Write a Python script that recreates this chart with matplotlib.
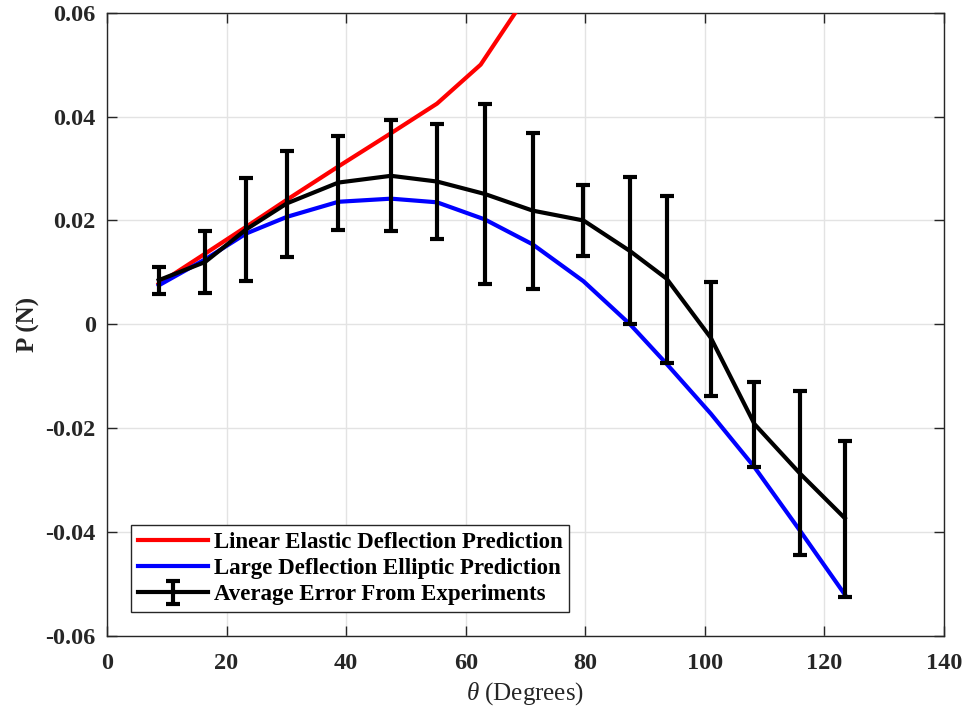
import matplotlib
matplotlib.use("Agg")
import matplotlib.pyplot as plt

plt.rcParams['font.family'] = ['Liberation Serif', 'DejaVu Serif']
plt.rcParams['mathtext.fontset'] = 'custom'
plt.rcParams['mathtext.it'] = 'Liberation Serif:italic'
plt.rcParams['mathtext.rm'] = 'Liberation Serif'

# Measured deflection angles (degrees) and load (N)
theta = [8.65, 16.4, 23.3, 30.1, 38.7, 47.5, 55.2, 63.2, 71.2,
         79.7, 87.5, 93.6, 101.0, 108.3, 115.9, 123.4]
p_mean = [0.0085, 0.0120, 0.0183, 0.0233, 0.0273, 0.0286, 0.0275, 0.0251, 0.0219,
          0.0200, 0.0141, 0.0088, -0.0026, -0.0192, -0.0287, -0.0373]
p_upper = [0.0111, 0.0180, 0.0281, 0.0334, 0.0363, 0.0393, 0.0386, 0.0424, 0.0369,
           0.0269, 0.0284, 0.0247, 0.0082, -0.0111, -0.0128, -0.0224]
p_lower = [0.0059, 0.0060, 0.0083, 0.0130, 0.0181, 0.0179, 0.0165, 0.0077, 0.0068,
           0.0132, 0.0000, -0.0075, -0.0138, -0.0274, -0.0445, -0.0525]

# Linear elastic beam prediction
theta_linear = [8.65, 16.4, 23.3, 30.1, 38.7, 47.5, 55.2, 62.5, 71.2]
p_linear = [0.0078, 0.0136, 0.0188, 0.0240, 0.0304, 0.0368, 0.0425, 0.0500, 0.0650]

# Large deflection (elliptic integral) prediction
p_elliptic = [0.0075, 0.0125, 0.0175, 0.0207, 0.0236, 0.0242, 0.0235, 0.0202, 0.0154,
              0.0083, 0.0000, -0.0076, -0.0172, -0.0275, -0.0397, -0.0520]

labels = ['Linear Elastic Deflection Prediction',
          'Large Deflection Elliptic Prediction',
          'Average Error From Experiments']

x_ticks = [0, 20, 40, 60, 80, 100, 120, 140]
y_ticks = [-0.06, -0.04, -0.02, 0, 0.02, 0.04, 0.06]
y_tick_labels = ['-0.06', '-0.04', '-0.02', '0', '0.02', '0.04', '0.06']

text_color = '#262626'

fig = plt.figure(figsize=(9.69, 7.15), dpi=100)
ax = fig.add_axes([0.1104, 0.1105, 0.8638, 0.8717])

ax.plot(theta_linear, p_linear, color='#ff0000', lw=3.0, label=labels[0], zorder=3)
ax.plot(theta, p_elliptic, color='#0000ff', lw=3.0, label=labels[1], zorder=3)

err_low = [m - lo for m, lo in zip(p_mean, p_lower)]
err_high = [hi - m for m, hi in zip(p_mean, p_upper)]
ax.errorbar(theta, p_mean, yerr=[err_low, err_high], color='black', lw=3.0,
            elinewidth=3.0, capsize=5, capthick=3.0, label=labels[2], zorder=4)

ax.set_xlim(0, 140)
ax.set_ylim(-0.06, 0.06)
ax.set_xticks(x_ticks)
ax.set_yticks(y_ticks)
ax.set_yticklabels(y_tick_labels)
ax.grid(True, color='#e3e3e3', lw=1.0, zorder=0)
ax.set_axisbelow(True)
ax.tick_params(direction='in', length=7, width=1.0, top=True, right=True,
               colors=text_color, labelsize=17.5)
ax.tick_params(axis='x', pad=12)
ax.tick_params(axis='y', pad=8)
for lab in ax.get_xticklabels() + ax.get_yticklabels():
    lab.set_fontweight('bold')
for sp in ax.spines.values():
    sp.set_color(text_color)
    sp.set_linewidth(1.0)

ax.set_xlabel(r'$\theta$ (Degrees)', fontsize=18, color=text_color, labelpad=5)
ax.set_ylabel('P (N)', fontsize=18, fontweight='bold', color=text_color, labelpad=4)

leg = ax.legend(loc='lower left', bbox_to_anchor=(0.0287, 0.0385), borderaxespad=0,
                fancybox=False, framealpha=1, edgecolor=text_color,
                prop={'weight': 'bold', 'size': 16.5}, handlelength=3.05,
                handletextpad=0.25, labelspacing=0.22, borderpad=0.3)
leg.get_frame().set_linewidth(1.0)

fig.savefig('out.png', dpi=100)
